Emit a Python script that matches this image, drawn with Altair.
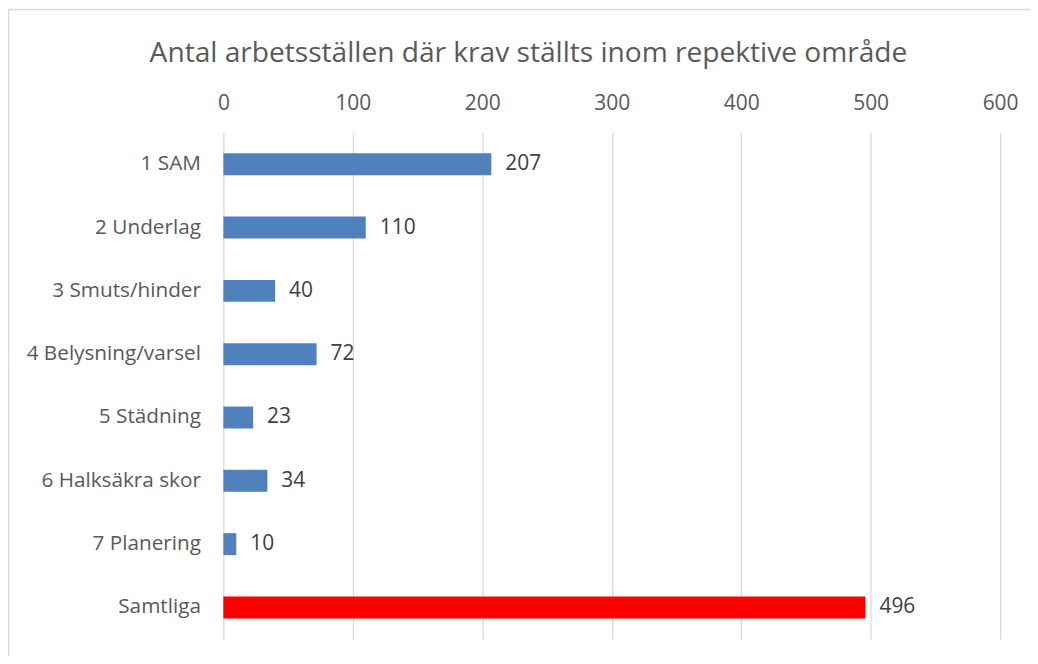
import altair as alt
import pandas as pd

categories = ["1 SAM", "2 Underlag", "3 Smuts/hinder", "4 Belysning/varsel",
              "5 Städning", "6 Halksäkra skor", "7 Planering", "Samtliga"]
values = [207, 110, 40, 72, 23, 34, 10, 496]
groups = ["del", "del", "del", "del", "del", "del", "del", "tot"]
x_ticks = [0, 100, 200, 300, 400, 500, 600]
title_text = "Antal arbetsställen där krav ställts inom repektive område"

df = pd.DataFrame({"kategori": categories, "antal": values, "grupp": groups})
title_df = pd.DataFrame({"t": [title_text]})

FONT = "Open Sans"

x_enc = alt.X("antal:Q",
              scale=alt.Scale(domain=[0, 600], nice=False, zero=True),
              axis=alt.Axis(orient="top", values=x_ticks, title=None, domain=False,
                            ticks=False, grid=True, gridColor="#d9d9d9", gridWidth=1.3,
                            labelFont=FONT, labelFontSize=21, labelColor="#595959",
                            labelPadding=19, labelFlush=False))
y_enc = alt.Y("kategori:N", sort=categories,
              scale=alt.Scale(paddingInner=0.65, paddingOuter=0.325),
              axis=alt.Axis(title=None, domain=False, ticks=False,
                            labelFont=FONT, labelFontSize=20.8, labelColor="#595959",
                            labelPadding=23, labelLimit=300))

bars = alt.Chart(df).mark_bar(size=22).encode(
    x=x_enc,
    y=y_enc,
    color=alt.Color("grupp:N",
                    scale=alt.Scale(domain=["del", "tot"], range=["#4F81BD", "#FF0000"]),
                    legend=None),
)

labels = alt.Chart(df).mark_text(align="left", baseline="middle", dx=14,
                                 font=FONT, fontSize=21, color="#404040").encode(
    x="antal:Q",
    y=alt.Y("kategori:N", sort=categories),
    text="antal:Q",
)

title = alt.Chart(title_df).mark_text(align="center", baseline="alphabetic",
                                      font=FONT, fontSize=28.2, color="#595959").encode(
    x=alt.value(306), y=alt.value(-71), text="t:N")

frame_left = alt.Chart(title_df).mark_rule(color="#d9d9d9", strokeWidth=1.5).encode(
    x=alt.value(-215.5), y=alt.value(-124), y2=alt.value(540))
frame_top = alt.Chart(title_df).mark_rule(color="#d9d9d9", strokeWidth=1.5).encode(
    x=alt.value(-216), x2=alt.value(820), y=alt.value(-123.5))

chart = alt.layer(bars, labels, title, frame_left, frame_top).properties(
    width=779, height=508,
    autosize=alt.AutoSizeParams(type="none"),
    padding={"left": 216, "top": 124, "right": 30, "bottom": 16},
).configure_view(stroke=None)

chart.save("out.html", embed_options={"renderer": "svg", "actions": False})
